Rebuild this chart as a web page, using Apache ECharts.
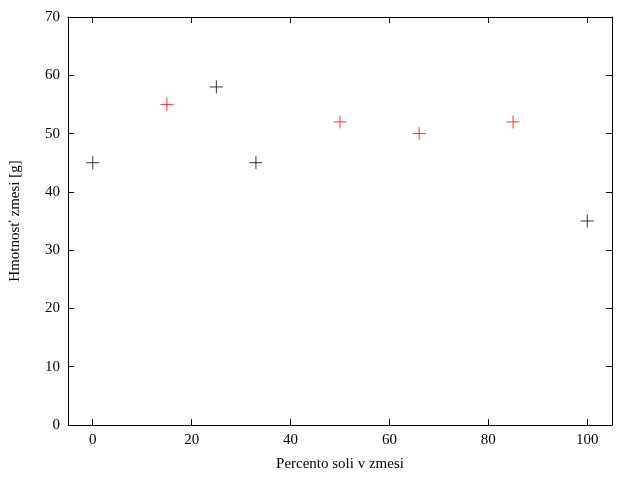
<!DOCTYPE html>
<html><head><meta charset="utf-8">
<script src="https://cdn.jsdelivr.net/npm/echarts@6/dist/echarts.min.js"></script>
<style>html,body{margin:0;padding:0;background:#fff}#c{width:640px;height:480px}</style>
</head><body><div id="c"></div>
<script>
var blackPts = [[0, 45], [25, 58], [33, 45], [100, 35]];
var redPts = [[15, 55], [50, 52], [66, 50], [85, 52]];
var xTicks = [0, 20, 40, 60, 80, 100];

var font = 'Liberation Serif';
var plus = 'path://M0,5L10,5M5,0L5,10';
var line = { onZero: false, lineStyle: { color: '#000', width: 1 } };
var tick = { inside: true, length: 6, lineStyle: { color: '#000' } };
var nameStyle = { fontFamily: font, fontSize: 15, color: '#000' };
var lbl = { fontFamily: font, fontSize: 15, color: '#000' };

var chart = echarts.init(document.getElementById('c'));
chart.setOption({
    animation: false,
    grid: { left: 67, right: 28, top: 17, bottom: 55 },
    xAxis: [{
        type: 'value', min: -5, max: 105, name: 'Percento soli v zmesi', nameLocation: 'middle', nameGap: 32,
        nameTextStyle: nameStyle, axisLine: line, splitLine: { show: false },
        axisLabel: Object.assign({ customValues: xTicks }, lbl),
        axisTick: Object.assign({ customValues: xTicks }, tick)
    }, {
        type: 'value', position: 'top', min: -5, max: 105, axisLine: line, splitLine: { show: false },
        axisLabel: { show: false },
        axisTick: Object.assign({ customValues: xTicks }, tick)
    }],
    yAxis: [{
        type: 'value', min: 0, max: 70, interval: 10, name: 'Hmotnosť zmesi [g]', nameLocation: 'middle', nameGap: 45,
        nameTextStyle: nameStyle, axisLine: line, axisTick: tick, splitLine: { show: false }, axisLabel: lbl
    }, {
        type: 'value', position: 'right', min: 0, max: 70, interval: 10,
        axisLine: line, axisTick: tick, splitLine: { show: false }, axisLabel: { show: false }
    }],
    series: [{
        type: 'scatter', data: blackPts, symbol: plus, symbolSize: 13,
        itemStyle: { color: 'none', borderColor: '#000', borderWidth: 1 }
    }, {
        type: 'scatter', data: redPts, symbol: plus, symbolSize: 13,
        itemStyle: { color: 'none', borderColor: '#ff0000', borderWidth: 1 }
    }]
});
</script></body></html>
